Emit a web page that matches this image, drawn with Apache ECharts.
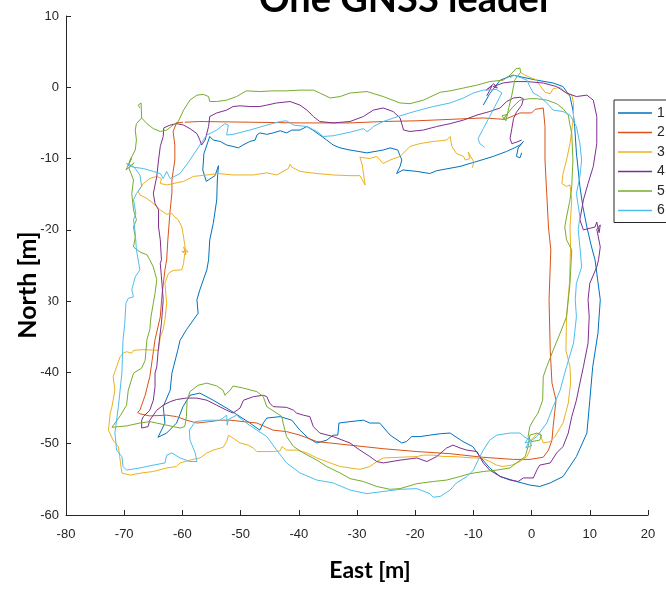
<!DOCTYPE html>
<html>
<head>
<meta charset="utf-8">
<script src="https://cdn.jsdelivr.net/npm/echarts@6/dist/echarts.min.js"></script>
<style>
  html, body { margin: 0; padding: 0; background: #fff; }
  #chart { width: 666px; height: 589px; }
</style>
</head>
<body>
<div id="chart"></div>
<script>
// Vehicle trajectories, [East, North] in metres
const seriesNames = ['1', '2', '3', '4', '5', '6'];
const seriesColors = ['#0072BD', '#D95319', '#EDB120', '#7E2F8E', '#77AC30', '#4DBEEE'];
const eastTicks = [-80, -70, -60, -50, -40, -30, -20, -10, 0, 10, 20];
const northTicks = [-60, -50, -40, -30, -20, -10, 0, 10];

const track1 = [
  [-1.7,-9.2],[-2.0,-9.9],[-2.6,-9.7],[-2.3,-8.5],[-1.4,-7.6],[-2.0,-8.1],[-3.2,-8.6],[-4.3,-9.0],
  [-6.6,-9.7],[-9.4,-10.4],[-12.3,-11.1],[-16.3,-11.7],[-17.5,-12.1],[-19.7,-11.8],[-22.1,-11.6],
  [-23.2,-12.1],[-22.6,-11.1],[-22.3,-10.2],[-23.0,-8.8],[-24.3,-8.5],[-25.5,-8.8],[-28.3,-9.2],
  [-31.2,-8.8],[-32.9,-8.5],[-34.1,-8.1],[-35.2,-7.4],[-36.4,-6.7],[-37.6,-6.0],[-38.6,-5.5],
  [-39.8,-6.0],[-41.2,-6.0],[-42.1,-6.4],[-43.2,-6.1],[-44.4,-6.4],[-45.5,-6.6],[-46.7,-6.4],
  [-47.2,-6.7],[-47.5,-7.4],[-48.4,-7.6],[-49.6,-8.1],[-50.4,-8.5],[-51.3,-8.3],[-52.4,-8.1],
  [-53.5,-7.6],[-54.7,-7.4],[-55.3,-6.9],[-56.3,-9.3],[-56.5,-11.6],[-55.9,-13.2],[-54.4,-12.4],
  [-53.8,-11.0],[-54.0,-13.0],[-54.1,-15.8],[-54.7,-19.1],[-55.3,-21.4],[-55.5,-24.2],[-55.8,-25.6],
  [-57.0,-28.4],[-57.5,-29.8],[-57.3,-31.7],[-59.3,-34.0],[-60.4,-35.5],[-60.8,-36.9],[-61.8,-40.1],
  [-62.1,-42.5],[-63.3,-44.8],[-63.0,-47.1],[-64.2,-49.1],[-62.7,-48.5],[-61.0,-47.1],[-59.9,-44.8],
  [-58.7,-43.2],[-57.0,-42.9],[-54.7,-43.9],[-51.8,-45.3],[-50.1,-46.2],[-48.4,-47.1],[-46.7,-48.1],
  [-46.1,-47.1],[-45.5,-46.4],[-43.2,-46.2],[-41.2,-46.7],[-39.8,-48.1],[-38.4,-49.2],[-36.9,-49.9],
  [-35.2,-49.5],[-34.1,-48.8],[-33.3,-48.8],[-33.1,-47.1],[-31.2,-46.9],[-28.9,-46.7],[-27.8,-47.1],
  [-26.1,-47.1],[-24.3,-48.8],[-22.3,-49.9],[-21.5,-49.7],[-20.6,-49.0],[-19.2,-49.0],[-17.5,-48.8],
  [-15.7,-48.6],[-14.0,-48.5],[-11.8,-49.7],[-10.1,-50.4],[-8.9,-51.8],[-7.2,-53.4],[-5.4,-54.6],
  [-2.6,-55.3],[-0.3,-55.8],[1.4,-56.0],[3.2,-55.5],[5.4,-54.6],[7.7,-51.8],[9.5,-48.5],[10.0,-43.9],
  [10.5,-39.2],[11.4,-34.5],[11.8,-29.8],[10.9,-24.2],[10.3,-22.4],[9.5,-19.6],[8.8,-16.7],[8.3,-13.9],
  [7.7,-9.2],[7.4,-5.5],[7.1,-3.2],[6.6,-1.3],[5.4,0.1],[3.7,0.6],[0.9,1.0],[-1.5,1.4],[-3.2,1.7],
  [-5.4,1.0],[-7.2,-0.9],[-8.3,-2.5]
];

const track2 = [
  [-59.9,-4.9],[-61.0,-5.0],[-61.6,-6.2],[-61.3,-8.1],[-61.3,-10.2],[-61.8,-13.0],[-61.8,-14.8],
  [-62.1,-17.2],[-62.5,-21.4],[-62.7,-24.2],[-63.0,-25.6],[-63.5,-29.1],[-63.8,-32.2],[-64.7,-35.4],
  [-65.2,-38.3],[-65.6,-40.6],[-66.4,-43.2],[-67.3,-45.3],[-67.7,-45.6],[-67.3,-45.8],[-65.6,-46.1],
  [-62.7,-46.0],[-61.0,-46.2],[-59.3,-46.7],[-57.5,-47.1],[-55.3,-46.9],[-53.5,-46.7],[-51.8,-46.7],
  [-47.2,-47.1],[-44.4,-48.1],[-42.1,-48.3],[-39.8,-48.8],[-36.9,-49.7],[-31.2,-50.2],[-25.5,-50.7],
  [-19.7,-51.1],[-14.0,-51.4],[-8.4,-51.9],[-3.1,-52.2],[-0.3,-52.2],[2.0,-51.9],[2.9,-50.9],
  [3.5,-49.5],[3.7,-47.6],[4.2,-43.9],[3.5,-41.5],[3.2,-36.9],[3.0,-29.8],[3.3,-22.8],[2.9,-19.6],
  [2.6,-14.9],[2.3,-10.2],[2.3,-5.5],[2.0,-2.9],[0.6,-3.1],[0.0,-3.6],[-2.0,-3.6],[-3.7,-4.2],
  [-4.6,-4.5],[-8.3,-4.3],[-14.0,-4.5],[-19.7,-4.7],[-25.5,-4.8],[-31.2,-5.0],[-39.8,-5.0],
  [-48.4,-4.9],[-57.0,-4.8],[-59.6,-4.9]
];

const track3 = [
  [-2.0,2.1],[-1.1,1.7],[-0.3,1.4],[0.9,1.0],[1.4,0.3],[2.3,-0.7],[3.2,-0.9],[3.7,-0.2],[4.9,0.0],
  [6.0,-0.9],[6.9,-1.1],[7.2,-2.2],[7.2,-4.1],[6.6,-7.9],[6.0,-10.2],[5.4,-12.1],[5.2,-13.5],
  [6.0,-13.9],[6.6,-13.7],[6.9,-15.8],[6.6,-19.6],[6.7,-22.4],[6.5,-27.5],[6.0,-32.2],[5.9,-36.9],
  [6.6,-39.2],[6.7,-41.5],[6.3,-44.3],[5.4,-47.1],[4.0,-49.0],[3.2,-49.7],[2.0,-49.9],[1.7,-49.2],
  [1.4,-48.5],[0.9,-48.6],[0.0,-49.5],[-0.3,-50.9],[-0.8,-51.8],[-2.0,-52.5],[-3.4,-53.0],[-4.9,-53.2],
  [-6.0,-53.0],[-7.2,-52.5],[-8.6,-52.0],[-10.0,-52.0],[-11.7,-51.9],[-13.5,-51.8],[-15.2,-51.8],
  [-16.9,-51.6],[-18.6,-51.6],[-19.7,-51.8],[-22.6,-51.9],[-25.5,-52.0],[-26.6,-52.5],[-27.8,-53.2],
  [-29.5,-53.6],[-31.2,-53.4],[-32.9,-53.2],[-34.6,-52.7],[-36.9,-52.0],[-38.6,-51.3],[-40.4,-50.9],
  [-42.1,-50.9],[-42.9,-50.4],[-43.2,-51.0],[-44.4,-51.1],[-47.2,-51.1],[-47.8,-50.6],[-48.7,-50.2],
  [-50.1,-49.9],[-51.3,-49.2],[-52.1,-48.8],[-52.4,-49.7],[-53.0,-50.5],[-54.7,-50.9],[-55.8,-51.3],
  [-57.0,-52.0],[-58.7,-52.3],[-60.4,-52.7],[-61.0,-53.2],[-62.7,-53.4],[-65.0,-53.9],[-67.0,-54.1],
  [-69.0,-54.4],[-70.4,-54.1],[-70.7,-52.3],[-71.0,-50.4],[-71.9,-49.5],[-72.7,-48.1],[-72.4,-45.7],
  [-72.1,-44.8],[-71.6,-42.5],[-71.9,-40.6],[-71.3,-39.2],[-70.7,-37.8],[-70.2,-37.3],[-69.6,-37.1],
  [-68.7,-37.3],[-68.4,-36.9],[-66.7,-36.8],[-64.1,-36.9],[-63.8,-35.0],[-63.3,-34.0],[-63.0,-32.6],
  [-62.7,-30.3],[-63.0,-27.5],[-62.4,-26.1],[-61.6,-25.7],[-60.1,-25.6],[-59.8,-24.7],[-59.6,-23.3],
  [-60.1,-23.0],[-59.0,-23.1],[-59.8,-22.4],[-59.4,-23.5],[-59.6,-22.1],[-59.8,-21.0],[-60.1,-19.6],
  [-60.7,-18.6],[-61.3,-18.2],[-61.8,-17.7],[-62.7,-17.8],[-63.8,-17.2],[-65.0,-16.3],[-66.1,-15.6],
  [-67.3,-15.1],[-67.6,-14.6],[-67.3,-14.2],[-66.7,-13.5],[-65.6,-12.8],[-64.4,-12.5],[-63.6,-12.8],
  [-63.8,-13.5],[-62.7,-13.7],[-59.8,-13.2],[-58.1,-12.5],[-55.8,-12.3],[-53.8,-12.1],[-51.3,-12.3],
  [-47.8,-12.3],[-45.5,-12.0],[-43.8,-12.3],[-41.8,-11.4],[-41.5,-10.8],[-41.2,-11.2],[-39.8,-11.8],
  [-36.9,-12.1],[-34.1,-12.3],[-31.2,-12.4],[-29.5,-12.4],[-28.6,-13.7],[-29.1,-10.9],[-29.5,-9.8],
  [-27.8,-10.0],[-26.6,-9.7],[-25.5,-10.7],[-24.3,-10.2],[-22.6,-9.7],[-20.9,-8.3],[-19.2,-7.9],
  [-16.9,-7.6],[-14.6,-7.4],[-14.0,-6.9],[-13.7,-8.3],[-12.9,-9.3],[-11.7,-9.7],[-11.4,-10.2],
  [-10.6,-10.0],[-10.9,-9.1],[-9.9,-10.5],[-10.2,-11.3]
];

const track4 = [
  [-7.7,-1.2],[-6.8,0.2],[-7.8,-0.4],[-6.5,0.5],[-5.9,-0.1],[-6.6,0.1],[-4.9,0.6],[-3.1,0.8],
  [-0.8,0.8],[2.0,0.6],[4.3,0.1],[6.0,-0.8],[7.7,-1.3],[9.5,-1.1],[10.6,-1.8],[11.2,-4.1],[11.2,-7.9],
  [10.6,-11.1],[9.7,-13.5],[8.9,-15.8],[8.3,-18.6],[8.9,-20.0],[10.9,-19.6],[11.2,-18.9],[11.6,-20.4],
  [11.8,-19.3],[11.2,-19.9],[11.8,-22.4],[11.5,-24.2],[11.2,-25.2],[10.0,-27.5],[9.7,-29.8],[9.9,-32.2],
  [9.7,-35.9],[8.9,-39.2],[8.3,-41.5],[7.7,-43.9],[6.9,-46.2],[6.3,-48.5],[5.4,-50.4],[4.3,-51.3],
  [3.2,-52.7],[1.4,-53.0],[0.9,-53.7],[0.3,-54.8],[-1.4,-54.8],[-2.3,-55.3],[-3.7,-55.1],[-5.4,-54.6],
  [-7.2,-53.7],[-8.3,-52.7],[-9.4,-51.1],[-11.1,-50.9],[-12.3,-50.6],[-13.5,-50.2],[-14.6,-50.6],
  [-16.3,-51.8],[-18.0,-52.5],[-19.7,-52.0],[-22.6,-52.3],[-25.5,-52.7],[-26.6,-52.5],[-27.8,-51.8],
  [-29.5,-50.9],[-31.2,-49.9],[-34.1,-49.0],[-36.4,-48.5],[-37.5,-47.6],[-38.1,-46.2],[-39.2,-46.0],
  [-40.4,-45.7],[-40.9,-45.3],[-42.1,-44.9],[-44.4,-44.8],[-45.0,-44.3],[-45.5,-43.4],[-46.1,-43.2],
  [-47.8,-43.4],[-49.5,-43.9],[-50.1,-45.0],[-51.3,-45.7],[-52.4,-45.3],[-54.1,-44.6],[-55.8,-43.9],
  [-57.5,-43.6],[-59.3,-43.6],[-61.0,-43.8],[-62.1,-44.1],[-63.3,-44.6],[-64.4,-45.3],[-65.6,-46.7],
  [-65.9,-47.6],[-67.0,-47.8],[-67.0,-46.7],[-66.7,-46.2],[-65.6,-45.3],[-65.0,-43.9],[-64.7,-42.0],
  [-64.7,-40.1],[-64.4,-39.2],[-64.1,-36.4],[-63.6,-33.1],[-63.3,-29.8],[-63.6,-26.6],[-63.8,-24.7],
  [-63.6,-24.2],[-63.8,-21.4],[-64.1,-19.6],[-64.1,-17.2],[-64.7,-16.3],[-65.0,-14.9],[-64.4,-12.5],
  [-64.1,-10.2],[-63.8,-8.3],[-63.3,-6.9],[-63.2,-5.7],[-63.0,-5.5],[-62.1,-5.3],[-61.0,-5.1],
  [-59.8,-5.3],[-58.7,-5.8],[-57.5,-6.5],[-57.0,-7.4],[-56.7,-8.1],[-56.4,-8.3],[-56.1,-7.4],
  [-55.5,-5.5],[-55.3,-4.1],[-54.1,-3.6],[-52.4,-3.2],[-51.3,-2.7],[-50.1,-2.6],[-48.4,-2.7],
  [-46.7,-2.7],[-45.5,-2.5],[-43.8,-2.2],[-41.5,-2.0],[-39.8,-2.5],[-38.6,-3.2],[-37.5,-4.1],
  [-36.4,-4.8],[-34.1,-5.0],[-31.2,-4.8],[-28.9,-4.1],[-27.2,-3.2],[-25.5,-2.9],[-23.8,-3.4],
  [-22.6,-4.3],[-22.0,-6.0],[-20.9,-6.2],[-18.6,-6.0],[-16.3,-5.5],[-14.0,-5.1],[-11.7,-4.6],
  [-9.4,-3.9],[-7.2,-3.4],[-5.4,-2.9],[-4.3,-2.0],[-3.1,-1.5],[-2.0,-1.4],[-1.4,-1.6],[-1.7,-2.5],
  [-2.6,-3.5],[-3.1,-4.4],[-3.4,-5.8],[-3.7,-7.2],[-3.4,-7.9],[-2.6,-7.7],[-1.7,-7.4]
];

const track5 = [
  [-67.3,-2.9],[-67.6,-2.5],[-67.1,-2.2],[-67.0,-4.3],[-67.9,-5.1],[-68.1,-6.0],[-67.9,-7.4],
  [-68.1,-8.8],[-69.0,-10.2],[-69.3,-11.0],[-68.7,-9.9],[-69.7,-11.6],[-68.3,-10.6],[-69.2,-11.3],
  [-68.4,-13.0],[-68.7,-14.9],[-68.4,-17.2],[-67.9,-18.6],[-68.4,-19.6],[-68.1,-21.0],[-68.4,-22.4],
  [-67.3,-23.1],[-66.1,-23.5],[-65.6,-24.2],[-65.0,-25.2],[-64.4,-27.0],[-64.7,-28.9],[-65.0,-30.3],
  [-65.4,-32.2],[-65.6,-34.0],[-66.1,-35.4],[-66.4,-38.3],[-67.0,-39.4],[-68.4,-40.1],[-69.3,-42.5],
  [-69.6,-44.6],[-70.7,-46.1],[-72.1,-47.7],[-69.6,-47.5],[-67.3,-47.1],[-65.6,-46.9],[-62.7,-47.4],
  [-60.4,-47.8],[-59.6,-47.6],[-59.3,-46.2],[-59.2,-43.9],[-58.7,-42.7],[-57.3,-41.8],[-55.8,-41.5],
  [-54.1,-41.9],[-53.0,-42.5],[-52.7,-43.2],[-51.8,-42.5],[-51.3,-41.9],[-49.5,-42.2],[-47.2,-42.7],
  [-46.1,-43.4],[-45.5,-44.8],[-43.8,-45.7],[-42.9,-46.2],[-42.7,-47.1],[-42.1,-49.0],[-40.9,-50.4],
  [-39.2,-51.3],[-36.9,-52.3],[-35.2,-53.2],[-32.9,-54.1],[-31.2,-54.9],[-28.9,-55.3],[-26.6,-56.0],
  [-24.3,-56.4],[-22.6,-56.3],[-19.7,-55.6],[-16.9,-55.3],[-14.6,-55.1],[-12.3,-54.6],[-10.6,-54.2],
  [-8.3,-53.9],[-6.0,-53.7],[-3.7,-53.4],[-2.6,-52.7],[-1.1,-51.8],[-0.6,-50.4],[-0.3,-48.8],
  [0.9,-48.5],[1.7,-48.8],[1.4,-49.5],[0.0,-49.7],[-0.6,-49.0],[-0.3,-47.6],[0.3,-46.7],[1.1,-45.7],
  [1.9,-43.9],[2.0,-40.6],[2.6,-39.2],[3.7,-36.9],[4.9,-34.5],[6.0,-32.2],[6.6,-27.5],[6.9,-22.8],
  [6.0,-21.4],[5.7,-19.6],[6.0,-18.2],[6.6,-15.8],[6.9,-13.9],[7.1,-10.2],[6.9,-6.5],[6.6,-5.3],
  [6.3,-3.9],[5.4,-3.0],[4.3,-2.3],[2.6,-1.8],[0.9,-1.6],[-0.3,-1.6],[-2.0,-1.8],[-3.4,-2.9],
  [-4.6,-4.2],[-4.9,-4.6],[-4.2,-3.8],[-5.1,-4.0],[-4.4,-4.7],[-3.9,-2.8],[-3.4,-1.1],[-2.9,1.0],
  [-1.9,2.1],[-2.0,2.7],[-2.7,2.6],[-3.7,1.7],[-4.9,1.0],[-7.2,0.8],[-9.4,0.3],[-11.7,-0.1],
  [-14.0,-0.5],[-15.7,-0.7],[-18.6,-1.8],[-20.9,-2.3],[-22.6,-2.2],[-25.5,-1.3],[-28.3,-0.6],
  [-31.2,-0.8],[-32.9,-1.3],[-34.6,-1.5],[-36.4,-0.8],[-37.5,-0.4],[-39.8,-0.4],[-42.1,-0.5],
  [-44.4,-0.5],[-46.7,-0.6],[-49.0,-0.5],[-50.7,-1.3],[-52.4,-1.8],[-54.1,-2.0],[-55.3,-2.0],
  [-55.5,-1.3],[-56.4,-1.0],[-57.5,-1.1],[-58.7,-1.8],[-59.8,-3.2],[-60.7,-4.8],[-61.6,-5.3],
  [-62.7,-6.0],[-63.8,-6.2],[-65.0,-5.8],[-66.1,-5.1],[-67.0,-4.3]
];

const track6 = [
  [-3.7,1.3],[-3.1,1.7],[-2.0,1.4],[-0.8,1.0],[-0.3,0.1],[0.3,-0.8],[1.4,-1.3],[2.6,-2.2],[3.7,-3.2],
  [5.4,-3.4],[6.6,-3.9],[7.7,-5.5],[8.3,-7.9],[8.6,-10.2],[8.3,-12.5],[7.7,-14.9],[8.3,-18.2],
  [8.0,-20.0],[8.3,-22.4],[8.6,-25.2],[7.7,-27.5],[7.5,-29.8],[7.7,-32.2],[7.2,-35.9],[6.0,-39.2],
  [4.9,-42.5],[3.7,-44.8],[2.6,-47.1],[0.9,-49.0],[-0.3,-49.7],[-1.1,-49.9],[-0.6,-49.2],[0.0,-50.3],
  [-1.0,-50.6],[-0.3,-49.5],[-1.3,-49.0],[-2.0,-48.5],[-3.7,-48.5],[-6.0,-48.8],[-7.2,-49.5],
  [-8.3,-50.9],[-8.9,-51.8],[-10.0,-53.7],[-11.1,-54.6],[-12.9,-55.5],[-14.0,-56.5],[-15.7,-57.4],
  [-16.9,-57.5],[-17.5,-57.0],[-19.7,-56.3],[-22.6,-56.4],[-25.5,-56.7],[-28.3,-57.0],[-31.2,-56.5],
  [-34.1,-55.5],[-36.9,-55.1],[-39.8,-54.1],[-42.1,-52.7],[-43.8,-50.9],[-45.5,-49.0],[-47.2,-48.1],
  [-49.0,-47.1],[-50.7,-46.0],[-52.1,-46.6],[-52.3,-47.4],[-52.4,-46.0],[-53.5,-46.7],[-55.8,-46.7],
  [-57.8,-46.9],[-58.8,-48.1],[-58.7,-49.5],[-57.8,-51.3],[-57.5,-52.5],[-58.7,-52.5],[-60.4,-52.0],
  [-61.8,-51.3],[-62.7,-51.6],[-63.0,-52.7],[-65.0,-53.0],[-67.3,-53.4],[-69.6,-53.7],[-70.2,-53.2],
  [-70.4,-51.8],[-71.3,-50.9],[-71.6,-48.5],[-71.0,-44.8],[-70.4,-40.1],[-70.2,-35.4],[-69.9,-33.1],
  [-69.7,-30.3],[-69.3,-29.6],[-68.4,-29.4],[-68.7,-28.4],[-68.4,-27.5],[-68.1,-26.6],[-67.3,-25.6],
  [-67.6,-24.2],[-67.9,-22.8],[-68.1,-20.5],[-68.4,-18.6],[-68.0,-17.7],[-68.4,-15.8],[-67.9,-14.9],
  [-67.0,-13.9],[-67.3,-12.3],[-68.4,-11.1],[-69.6,-10.7],[-68.5,-11.2],[-66.7,-11.4],[-65.0,-11.8],
  [-63.8,-12.1],[-63.3,-12.8],[-62.7,-11.8],[-62.1,-12.8],[-60.4,-12.1],[-58.7,-10.2],[-57.0,-8.1],
  [-55.8,-6.7],[-54.1,-6.0],[-52.7,-5.1],[-52.1,-5.3],[-52.4,-6.7],[-51.3,-6.6],[-48.4,-6.0],
  [-45.5,-5.3],[-43.2,-4.8],[-42.1,-4.7],[-40.9,-5.3],[-38.6,-5.5],[-36.9,-6.2],[-35.8,-6.9],
  [-34.1,-6.8],[-31.2,-6.3],[-28.9,-5.8],[-28.3,-6.2],[-27.8,-6.0],[-27.2,-5.5],[-25.5,-4.8],
  [-22.6,-4.0],[-19.7,-3.3],[-16.9,-2.7],[-14.0,-2.2],[-11.7,-1.5],[-10.0,-0.8],[-8.3,-0.4],
  [-6.0,-0.3],[-5.1,-0.8],[-6.0,-2.2],[-7.2,-4.1],[-8.3,-5.8],[-9.2,-7.2],[-8.9,-7.9],[-8.1,-8.4]
];

const tracks = [track1, track2, track3, track4, track5, track6];

const chart = echarts.init(document.getElementById('chart'), null, { renderer: 'canvas' });

const tickFont = { fontFamily: 'Liberation Sans, Arial, sans-serif', fontSize: 13, color: '#262626' };
const nameFont = { fontFamily: 'Lato, sans-serif', fontWeight: 'bold', color: '#000' };

chart.setOption({
  animation: false,
  backgroundColor: '#fff',
  grid: { left: 66, right: 18, top: 16, bottom: 74, containLabel: false, outerBoundsMode: 'none' },
  graphic: [{
    type: 'text',
    x: 406,
    y: 0,
    style: {
      text: 'One GNSS leader',
      textAlign: 'center',
      textVerticalAlign: 'middle',
      fontFamily: 'Lato, sans-serif',
      fontSize: 38,
      fontWeight: 'bold',
      fill: '#000'
    },
    z: 100
  }, {
    // vertical axis title, drawn on an opaque box that sits over the tick labels
    type: 'text',
    x: 28,
    y: 285,
    rotation: Math.PI / 2,
    style: {
      text: 'North [m]',
      textAlign: 'center',
      textVerticalAlign: 'middle',
      fontFamily: 'Lato, sans-serif',
      fontSize: 25,
      fontWeight: 'bold',
      fill: '#000',
      backgroundColor: '#fff',
      padding: [0, 0, 16, 0]
    },
    z: 100
  }],
  legend: {
    data: seriesNames,
    orient: 'vertical',
    left: 614,
    top: 100,
    icon: 'rect',
    itemWidth: 34,
    itemHeight: 1.5,
    itemGap: 5.5,
    padding: [6, 10, 5, 4],
    borderColor: '#262626',
    borderWidth: 1,
    backgroundColor: '#fff',
    textStyle: { ...tickFont, fontSize: 14, lineHeight: 14 },
    z: 10
  },
  xAxis: {
    type: 'value',
    min: eastTicks[0],
    max: eastTicks[eastTicks.length - 1],
    interval: 10,
    name: 'East [m]',
    nameLocation: 'middle',
    nameGap: 44,
    nameMoveOverlap: false,
    nameTextStyle: { ...nameFont, fontSize: 23, padding: [0, 0, 0, 26] },
    axisLine: { show: true, onZero: false, lineStyle: { color: '#262626', width: 1 } },
    axisTick: { show: true, inside: true, length: 5, lineStyle: { color: '#262626' } },
    axisLabel: { ...tickFont, margin: 13 },
    splitLine: { show: false }
  },
  yAxis: {
    type: 'value',
    min: northTicks[0],
    max: northTicks[northTicks.length - 1],
    interval: 10,
    axisLine: { show: true, onZero: false, lineStyle: { color: '#262626', width: 1 } },
    axisTick: { show: true, inside: true, length: 5, lineStyle: { color: '#262626' } },
    axisLabel: { ...tickFont, margin: 7 },
    splitLine: { show: false }
  },
  series: tracks.map((t, i) => ({
    name: seriesNames[i],
    type: 'line',
    data: t,
    showSymbol: false,
    symbol: 'none',
    clip: true,
    color: seriesColors[i],
    lineStyle: { width: 1, color: seriesColors[i] },
    emphasis: { disabled: true }
  }))
});
</script>
</body>
</html>
